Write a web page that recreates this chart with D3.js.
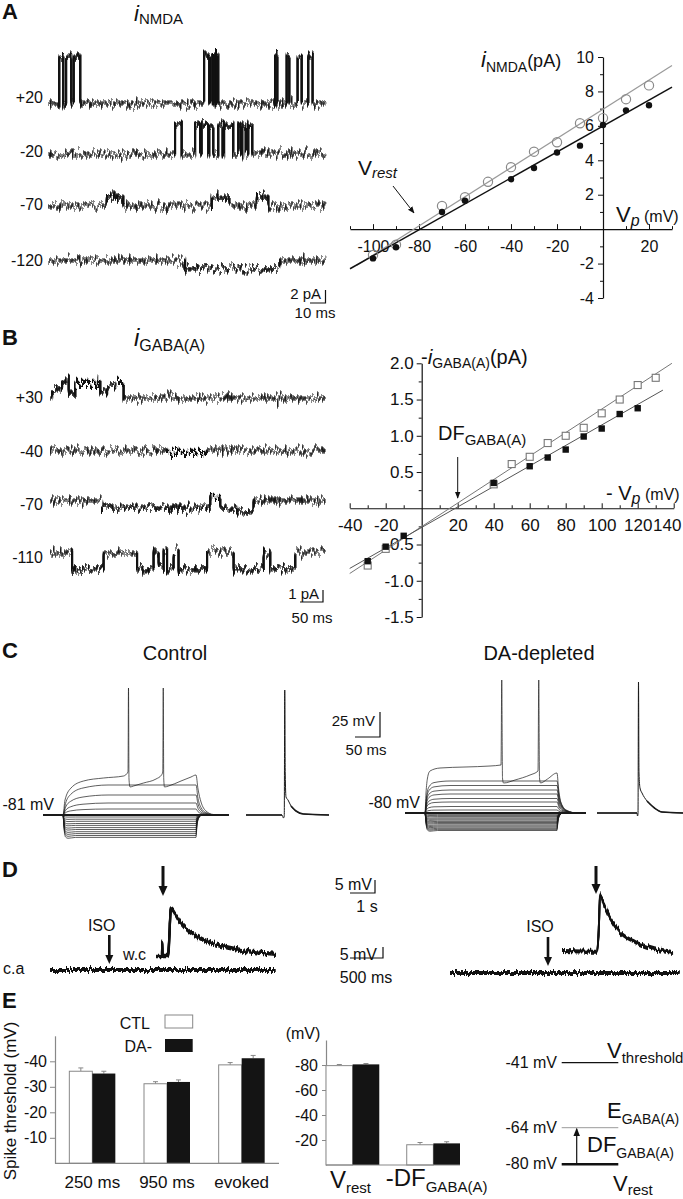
<!DOCTYPE html>
<html><head><meta charset="utf-8">
<script src="https://cdn.jsdelivr.net/npm/d3@7"></script>
<style>
body{margin:0;background:#fff}
svg{display:block}
text{font-family:"Liberation Sans",Arial,Helvetica,sans-serif;fill:#111}
</style></head>
<body><svg id="fig" width="683" height="1199"></svg>
<script>
// ---------------- DATA ----------------
// Panel A: NMDA single-channel IV
const nmdaVp      = [-100,-90,-70,-60,-50,-40,-30,-20,-10,0,10,20];
const nmdaOpenI   = [-1.5,-0.9,1.35,1.85,2.75,3.6,4.5,5.05,6.15,6.45,7.55,8.35];
const nmdaFilledI = [-1.7,-1.05,1.0,1.65,null,2.9,3.55,4.45,4.85,6.05,6.9,7.2];
const nmdaFitOpen   = [[-107,-2.1],[30,9.5]];
const nmdaFitFilled = [[-110,-2.3],[30,8.25]];
const nmdaXTicks = [-100,-80,-60,-40,-20,20];
const nmdaYTicks = [-4,-2,2,4,6,8,10];
// Panel A: NMDA traces (ms, amplitude pA)
const nmdaTraceLabels = ["+20","-20","-70","-120"];
const nmdaTraceAmp = [7.2,4.6,1.2,-1.2];
const nmdaEvents = [
  [[7.3,10],[11.8,15.3],[16.9,21.3],[103.8,107.3],[108.2,109.6],[110.3,111.5],[112.1,113.3],[151.1,152.7],[158.9,160.7],[166.2,168.9],[173.3,176.2]],
  [[84.4,88.9],[97.8,101.1],[102.2,106.7],[107.3,110],[113.3,116.2],[117.1,123.3],[126.7,128.2],[129.3,131.6],[133.3,136]],
  [[38.9,50],[108.9,120.7],[138.9,146.7]],
  [[91.1,154.4]]
];
// Panel B: GABA(A) IV
const gabaVp      = [-30,-20,-10,40,50,60,70,80,90,100,110,120,130];
const gabaOpenI   = [-0.79,-0.56,null,0.33,0.61,0.71,0.9,1.0,1.11,1.31,1.5,1.7,1.8];
const gabaFilledI = [-0.73,-0.53,-0.38,0.35,null,0.58,0.7,0.81,0.99,1.1,1.3,1.38,null];
const gabaFitOpen   = [[-40,-0.9],[139,2.0]];
const gabaFitFilled = [[-40,-0.83],[134,1.63]];
const gabaXTicks = [-40,-20,20,40,60,80,100,120,140];
const gabaYTicks = [-1.5,-1.0,-0.5,0.5,1.0,1.5,2.0];
// Panel B: GABA traces [start ms, end ms, pA]
const gabaTraceLabels = ["+30","-40","-70","-110"];
const gabaEvents = [
  [[3.6,25.4,0.6],[25.4,39.9,1.4],[39.9,54.3,0.4],[54.3,108.7,1.3],[108.7,123.2,0.6],[123.2,141.3,1.1],[141.3,159.4,1.3]],
  [[253.6,340.6,-0.2]],
  [[112.3,347.8,-0.6],[347.8,369.6,0.3],[369.6,405.8,-0.6],[405.8,442,-0.9]],
  [[47.1,115.9,-1.4],[188.4,224.6,-1.4],[235.5,246.4,-1.1],[253.6,268.1,-1.4],[278.9,340.6,-1.4],[398.6,463.8,-1.4],[478.3,532.6,-1.4]]
];
// Panel C: current-clamp step families (mV)
const ctlRest = -81, daRest = -80;
const ctlHypLevels = [-83,-85.2,-87.3,-89.5,-91.4,-93.6,-95.5,-97.7,-99.6,-101.5,-103.4];
const ctlDepLevels = [-75,-69,-61,-51];
const daHypLevels  = [-81.3,-82.4,-83.6,-84.9,-86,-87.1,-88.4,-89.5,-90.6,-91.9,-93,-94.1,-95.3,-96.4,-97.5];
const daDepLevels  = [-77,-73.5,-69,-65.5,-61,-57,-52.5,-48];
const ctlSpikeT = [0,39,43,55,80,120,160,169,170,171,173,180,200,225,236,238.5,239.5,240.5,242,250,275,295,305,309,315,325,340,370];
const ctlSpikeV = [-81,-81,-66,-54,-47,-44,-42,-38,46,-45,-53,-52,-49,-45,-41,-38,46,-45,-53,-52,-47,-43,-41,-55,-68,-77,-80.5,-81];
const ctlEvokedT = [0,72,75,76.5,77.5,78.5,80,84,90,100,115,166];
const ctlEvokedV = [-81,-81,-84,-82,44,-40,-63,-66,-72,-77,-80,-81];
const daSpikeT = [0,40,42,45,50,70,120,170,192,193.5,195,197,220,250,266,267.5,269,271,285,304,307,312,320,335,362];
const daSpikeV = [-80,-80,-60,-45,-38,-35,-34,-33,-32,53,-45,-50,-47,-42,-38,53,-45,-50,-46,-40,-55,-70,-77,-80,-80];
const daEvokedT = [0,80,81,82,83,84,86,90,100,115,130,172];
const daEvokedV = [-80,-80,-83,-81,51,-40,-55,-60,-68,-75,-79,-80];
// Panel D: ISO responses (s, mV)
const wcT = [0,0.24,0.25,0.26,0.48,0.6,0.76,0.96,1.36,1.76,2.36,3.16,3.96,4.8];
const wcV = [0,0,5.4,0,0,18,16.2,13.1,9.2,6.9,4.6,2.7,1.5,0.8];
const daWcT = [0,1.4,1.47,1.52,1.72,1.92,2.32,2.92,3.52,4.44];
const daWcV = [0,-0.3,8,21.5,16.9,12.7,7.3,3.5,1.2,-0.8];
const caLeftT = [0,3.42], caLeftV = [0,0];
const caRightT = [0,3.48], caRightV = [0,0];
// Panel E
const thrCats = ["250 ms","950 ms","evoked"];
const thrCtl = [-36.1,-31.2,-38.6];
const thrDa  = [-35.2,-31.9,-41.2];
const thrCtlErr = [1.3,0.8,0.9];
const thrDaErr  = [0.9,0.8,1.1];
const thrTicks = [-40,-30,-20,-10];
const mvCats = ["Vrest","DF"];
const mvCtl = [-79.5,-16.2];
const mvDa  = [-80.5,-17.3];
const mvCtlErr = [0.9,1.8];
const mvDaErr  = [0.7,1.3];
const mvTicks = [-80,-60,-40,-20];
const diagLevels = [-41,-64,-80];
const diagLabels = ["-41 mV","-64 mV","-80 mV"];

// ---------------- HELPERS ----------------
const svg = d3.select("#fig");
const defs = svg.append("defs");
const INK = "#111";

function makeNoise(id, fx, fy, scale, seed, smear){
  const f = defs.append("filter").attr("id",id).attr("filterUnits","userSpaceOnUse")
    .attr("x",0).attr("y",0).attr("width",683).attr("height",1199)
    .attr("color-interpolation-filters","sRGB");
  f.append("feTurbulence").attr("type","fractalNoise").attr("baseFrequency",fx+" "+fy)
    .attr("numOctaves",3).attr("seed",seed).attr("result","turb");
  f.append("feColorMatrix").attr("in","turb").attr("type","matrix")
    .attr("values","0 0 0 0 0.5  0 1 0 0 0  0 0 0 0 0  0 0 0 0 1").attr("result","map");
  f.append("feDisplacementMap").attr("in","SourceGraphic").attr("in2","map").attr("scale",scale)
    .attr("xChannelSelector","R").attr("yChannelSelector","G").attr("result","disp");
  const names=["disp"];
  smear.forEach((d,i)=>{
    f.append("feOffset").attr("in","disp").attr("dx",d[0]).attr("dy",d[1]).attr("result","o"+i);
    names.push("o"+i);
  });
  const m = f.append("feMerge");
  names.forEach(n=>m.append("feMergeNode").attr("in",n));
}
makeNoise("nzA",0.8,0.05,20,3,[[0,1],[0,-1],[0,2],[0.5,0]]);
makeNoise("nzB",0.8,0.05,19,7,[[0,1],[0,-1],[0,2],[0.5,0]]);
makeNoise("nzD",0.7,0.05,7,11,[[0,1],[0,-1]]);

defs.append("marker").attr("id","ah").attr("viewBox","0 0 10 10").attr("refX",9).attr("refY",5)
  .attr("markerWidth",7).attr("markerHeight",7).attr("orient","auto")
  .append("path").attr("d","M0,1 L10,5 L0,9 z").attr("fill",INK);

function txt(g,x,y,parts,anchor){
  const t = g.append("text").attr("x",x).attr("y",y).attr("text-anchor",anchor||"start");
  parts.forEach(p=>{
    const s = t.append("tspan").text(p.t).attr("font-size",p.s);
    if(p.i) s.attr("font-style","italic");
    if(p.b) s.attr("font-weight","bold");
    if(p.dy) s.attr("dy",p.dy);
    if(p.dx) s.attr("dx",p.dx);
  });
  return t;
}
function panelLabel(l,y){ txt(svg,2,y,[{t:l,s:22,b:true}]); }
function thickArrow(g,x,y1,y2,w,hw,hl){
  g.append("line").attr("x1",x).attr("x2",x).attr("y1",y1).attr("y2",y2-hl+1)
    .attr("stroke",INK).attr("stroke-width",w);
  g.append("path").attr("d",`M${x-hw/2},${y2-hl} L${x+hw/2},${y2-hl} L${x},${y2} Z`).attr("fill",INK);
}
function stepPoints(ev,T){
  const e = ev.slice().sort((a,b)=>a[0]-b[0]);
  const pts=[[0,0]]; let prevEnd=null;
  e.forEach(([s,en,a])=>{
    if(prevEnd!==null && Math.abs(s-prevEnd)>1e-6) pts.push([prevEnd,0]);
    pts.push([s,a]); prevEnd=en;
  });
  if(prevEnd!==null) pts.push([prevEnd,0]);
  pts.push([T,0]);
  return pts;
}
function styleAxis(g,size){
  g.selectAll("path.domain").attr("stroke",INK).attr("stroke-width",1.2);
  g.selectAll(".tick line").attr("stroke",INK).attr("stroke-width",1);
  g.selectAll("text").attr("font-size",size).attr("fill",INK)
    .attr("font-family",'"Liberation Sans",Arial,sans-serif');
}
const fmtInt = d=>String(d);

// ---------------- PANEL A traces ----------------
panelLabel("A",19);
txt(svg,134,21,[{t:"i",s:22,i:true},{t:"NMDA",s:15,dy:3}]);
{
  const g = svg.append("g");
  const x = d3.scaleLinear().domain([0,185]).range([48,325.5]);
  const bases = [103,154,205,260];
  const labY = [103,157,210,266];
  const tr = g.append("g").attr("filter","url(#nzA)");
  nmdaEvents.forEach((ev,k)=>{
    const y = d3.scaleLinear().domain([0,1]).range([bases[k],bases[k]-6.5]);
    const pts = stepPoints(ev.map(e=>[e[0],e[1],nmdaTraceAmp[k]]),185);
    tr.append("path").attr("d",d3.line().x(p=>x(p[0])).y(p=>y(p[1])).curve(d3.curveStepAfter)(pts))
      .attr("fill","none").attr("stroke","#111").attr("stroke-width",1.2);
    txt(g,43,labY[k],[{t:nmdaTraceLabels[k],s:16}],"end");
  });
  g.append("path").attr("d","M310,303 H325.5 V290").attr("fill","none").attr("stroke",INK).attr("stroke-width",1.2);
  txt(g,321,299,[{t:"2 pA",s:15}],"end");
  txt(g,315,318,[{t:"10 ms",s:15}],"middle");
}

// ---------------- PANEL A IV ----------------
{
  const g = svg.append("g");
  const x = d3.scaleLinear().domain([-110,30]).range([350,672]);
  const y = d3.scaleLinear().domain([-4,10]).range([298,57]);
  const gx = g.append("g").attr("transform",`translate(0,${y(0)})`)
    .call(d3.axisBottom(x).tickValues(nmdaXTicks).tickSize(-5).tickSizeOuter(0).tickPadding(11).tickFormat(fmtInt));
  styleAxis(gx,16);
  g.append("g").attr("transform",`translate(0,${y(0)})`)
    .call(d3.axisBottom(x).tickValues([-110,-90,-70,-50,-30,-10,10,30]).tickSize(-3).tickSizeOuter(0).tickFormat(""))
    .call(a=>{a.select(".domain").remove();a.selectAll("line").attr("stroke",INK);});
  const gy = g.append("g").attr("transform",`translate(${x(0)},0)`)
    .call(d3.axisLeft(y).tickValues(nmdaYTicks).tickSize(5).tickSizeOuter(0).tickPadding(4).tickFormat(fmtInt));
  styleAxis(gy,16);
  g.append("g").attr("transform",`translate(${x(0)},0)`)
    .call(d3.axisLeft(y).tickValues([-3,-1,1,3,5,7,9]).tickSize(3).tickSizeOuter(0).tickFormat(""))
    .call(a=>{a.select(".domain").remove();a.selectAll("line").attr("stroke",INK);});
  const ln = d3.line().x(d=>x(d[0])).y(d=>y(d[1]));
  g.append("path").attr("d",ln(nmdaFitOpen)).attr("stroke","#9a9a9a").attr("stroke-width",1.2).attr("fill","none");
  g.append("path").attr("d",ln(nmdaFitFilled)).attr("stroke",INK).attr("stroke-width",1.5).attr("fill","none");
  g.selectAll("circle.o").data(nmdaVp.map((v,i)=>[v,nmdaOpenI[i]]).filter(d=>d[1]!==null)).join("circle")
    .attr("cx",d=>x(d[0])).attr("cy",d=>y(d[1])).attr("r",4.6).attr("fill","none").attr("stroke","#8a8a8a").attr("stroke-width",1.2);
  g.selectAll("circle.f").data(nmdaVp.map((v,i)=>[v,nmdaFilledI[i]]).filter(d=>d[1]!==null)).join("circle")
    .attr("cx",d=>x(d[0])).attr("cy",d=>y(d[1])).attr("r",3.2).attr("fill",INK);
  txt(g,481,67,[{t:"i",s:22,i:true},{t:"NMDA",s:14,dy:5},{t:"(pA)",s:18,dy:-5}]);
  txt(g,616,222,[{t:"V",s:22},{t:"p",s:16,i:true,dy:4},{t:" (mV)",s:16,dy:-4}]);
  txt(g,358,175,[{t:"V",s:21},{t:"rest",s:15,i:true,dy:3}]);
  g.append("line").attr("x1",393).attr("y1",186).attr("x2",414).attr("y2",213)
    .attr("stroke",INK).attr("stroke-width",1).attr("marker-end","url(#ah)");
}

// ---------------- PANEL B traces ----------------
panelLabel("B",345);
txt(svg,134,346,[{t:"i",s:24,i:true},{t:"GABA(A)",s:16,dy:5}]);
{
  const g = svg.append("g");
  const x = d3.scaleLinear().domain([0,598]).range([50,325]);
  const bases = [398,450,500,552];
  const labY = [403,457,510,563];
  const tr = g.append("g").attr("filter","url(#nzB)");
  gabaEvents.forEach((ev,k)=>{
    const y = d3.scaleLinear().domain([0,1]).range([bases[k],bases[k]-12]);
    const pts = stepPoints(ev,598);
    tr.append("path").attr("d",d3.line().x(p=>x(p[0])).y(p=>y(p[1])).curve(d3.curveStepAfter)(pts))
      .attr("fill","none").attr("stroke","#111").attr("stroke-width",1.2);
    txt(g,43,labY[k],[{t:gabaTraceLabels[k],s:16}],"end");
  });
  g.append("path").attr("d","M300,602 H323 V590").attr("fill","none").attr("stroke",INK).attr("stroke-width",1.2);
  txt(g,319,599,[{t:"1 pA",s:15}],"end");
  txt(g,312,623,[{t:"50 ms",s:15}],"middle");
}

// ---------------- PANEL B IV ----------------
{
  const g = svg.append("g");
  const x = d3.scaleLinear().domain([-40,140]).range([349.7,673.7]);
  const y = d3.scaleLinear().domain([-1.5,2.0]).range([617,363.3]);
  const gx = g.append("g").attr("transform",`translate(0,${y(0)})`)
    .call(d3.axisBottom(x).tickValues(gabaXTicks).tickSize(-5).tickSizeOuter(0).tickPadding(11).tickFormat(fmtInt));
  styleAxis(gx,17);
  gx.selectAll(".tick text").filter(d=>d===140).attr("dx",-7);
  g.append("g").attr("transform",`translate(0,${y(0)})`)
    .call(d3.axisBottom(x).tickValues([-30,-10,10,30,50,70,90,110,130]).tickSize(-3).tickSizeOuter(0).tickFormat(""))
    .call(a=>{a.select(".domain").remove();a.selectAll("line").attr("stroke",INK);});
  const gy = g.append("g").attr("transform",`translate(${x(0)},0)`)
    .call(d3.axisLeft(y).tickValues(gabaYTicks).tickSize(5).tickSizeOuter(0).tickPadding(3).tickFormat(d=>d.toFixed(1)));
  styleAxis(gy,17);
  g.append("g").attr("transform",`translate(${x(0)},0)`)
    .call(d3.axisLeft(y).tickValues([-1.25,-0.75,-0.25,0.25,0.75,1.25,1.75]).tickSize(3).tickSizeOuter(0).tickFormat(""))
    .call(a=>{a.select(".domain").remove();a.selectAll("line").attr("stroke",INK);});
  const ln = d3.line().x(d=>x(d[0])).y(d=>y(d[1]));
  g.append("path").attr("d",ln(gabaFitOpen)).attr("stroke","#777").attr("stroke-width",1).attr("fill","none");
  g.append("path").attr("d",ln(gabaFitFilled)).attr("stroke","#555").attr("stroke-width",1).attr("fill","none");
  const s1=7, s2=6.4;
  g.selectAll("rect.o").data(gabaVp.map((v,i)=>[v,gabaOpenI[i]]).filter(d=>d[1]!==null)).join("rect")
    .attr("x",d=>x(d[0])-s1/2).attr("y",d=>y(d[1])-s1/2).attr("width",s1).attr("height",s1)
    .attr("fill","#fff").attr("stroke","#777").attr("stroke-width",1.1);
  g.selectAll("rect.f").data(gabaVp.map((v,i)=>[v,gabaFilledI[i]]).filter(d=>d[1]!==null)).join("rect")
    .attr("x",d=>x(d[0])-s2/2).attr("y",d=>y(d[1])-s2/2).attr("width",s2).attr("height",s2).attr("fill",INK);
  txt(g,421,364,[{t:"-",s:20},{t:"i",s:21,i:true},{t:"GABA(A)",s:14,dy:4},{t:"(pA)",s:20,dy:-4}]);
  txt(g,438,440,[{t:"DF",s:20},{t:"GABA(A)",s:15,dy:5}]);
  txt(g,606,500,[{t:"- V",s:20},{t:"p",s:16,i:true,dy:4},{t:" (mV)",s:16,dy:-4}]);
  g.append("line").attr("x1",x(20)).attr("x2",x(20)).attr("y1",457).attr("y2",498)
    .attr("stroke",INK).attr("stroke-width",1).attr("marker-end","url(#ah)");
}

// ---------------- PANEL C ----------------
panelLabel("C",658);
txt(svg,175,660,[{t:"Control",s:20}],"middle");
txt(svg,539,660,[{t:"DA-depleted",s:20}],"middle");
{
  const g = svg.append("g");
  const hypRise = {dt:[0,2,5,10,25], f:[0,0.6,0.98,1.04,1]};
  const hypFall = {dt:[0,2,6,14,30], f:[1,0.45,0.12,-0.03,0]};
  const ctlDepRise = {dt:[0,5,15,40,90], f:[0,0.38,0.68,0.9,1]};
  const daDepRise  = {dt:[0,3,8,18,50], f:[0,0.5,0.82,0.95,1]};
  const depFall = {dt:[0,4,10,20,40], f:[1,0.55,0.25,0.08,0]};
  function stepTrace(base,level,on,off,end,rise,fall){
    const d=level-base, pts=[[0,base],[on,base]];
    rise.dt.forEach((t,i)=>{ if(i>0) pts.push([on+t,base+rise.f[i]*d]); });
    pts.push([off,level]);
    fall.dt.forEach((t,i)=>{ if(i>0) pts.push([off+t,base+fall.f[i]*d]); });
    pts.push([end,base]);
    return pts;
  }
  function draw(xs,ys,pts,w){
    g.append("path").attr("d",d3.line().x(p=>xs(p[0])).y(p=>ys(p[1])).curve(d3.curveMonotoneX)(pts))
      .attr("fill","none").attr("stroke","#1a1a1a").attr("stroke-width",w||0.7);
  }
  const xC = d3.scaleLinear().domain([0,370]).range([43.5,228.5]);
  const yC = d3.scaleLinear().domain([-81,-56]).range([815,790]);
  ctlHypLevels.forEach(l=>draw(xC,yC,stepTrace(ctlRest,l,39,305,370,hypRise,hypFall)));
  ctlDepLevels.forEach(l=>draw(xC,yC,stepTrace(ctlRest,l,39,305,370,ctlDepRise,depFall)));
  draw(xC,yC,ctlSpikeT.map((t,i)=>[t,ctlSpikeV[i]]));
  draw(xC,yC,[[0,ctlRest],[370,ctlRest]],1.8);
  const xCE = d3.scaleLinear().domain([0,166]).range([246,329]);
  draw(xCE,yC,ctlEvokedT.map((t,i)=>[t,ctlEvokedV[i]]),1);
  draw(xCE,yC,[[0,ctlRest],[72,ctlRest]],1.6);
  draw(xCE,yC,[[90,-72],[100,-77],[115,-80],[166,-81]],1.6);
  txt(g,54,810,[{t:"-81 mV",s:16}],"end");
  const xD = d3.scaleLinear().domain([0,362]).range([405,586]);
  const yD = d3.scaleLinear().domain([-80,-55]).range([813,788]);
  daHypLevels.forEach(l=>draw(xD,yD,stepTrace(daRest,l,40,304,362,hypRise,hypFall)));
  daDepLevels.forEach(l=>draw(xD,yD,stepTrace(daRest,l,40,304,362,daDepRise,depFall)));
  draw(xD,yD,daSpikeT.map((t,i)=>[t,daSpikeV[i]]));
  draw(xD,yD,[[0,daRest],[362,daRest]],1.8);
  const xDE = d3.scaleLinear().domain([0,172]).range([597,683]);
  draw(xDE,yD,daEvokedT.map((t,i)=>[t,daEvokedV[i]]),1);
  draw(xDE,yD,[[0,daRest],[80,daRest]],1.6);
  draw(xDE,yD,[[100,-68],[115,-75],[130,-79],[172,-80]],1.6);
  txt(g,420,808,[{t:"-80 mV",s:16}],"end");
  g.append("path").attr("d","M355,737 H380 V712").attr("fill","none").attr("stroke",INK).attr("stroke-width",1.2);
  txt(g,375,726,[{t:"25 mV",s:15}],"end");
  txt(g,366,755,[{t:"50 ms",s:15}],"middle");
}

// ---------------- PANEL D ----------------
panelLabel("D",877);
{
  const g = svg.append("g");
  const tr = g.append("g").attr("filter","url(#nzD)");
  const lineFn=(xs,ys)=>d3.line().x(p=>xs(p[0])).y(p=>ys(p[1])).curve(d3.curveMonotoneX);
  const xW = d3.scaleLinear().domain([0,1]).range([156,181]);
  const yW = d3.scaleLinear().domain([0,10]).range([956,930]);
  tr.append("path").attr("d",lineFn(xW,yW)(wcT.map((t,i)=>[t,wcV[i]]))).attr("fill","none").attr("stroke",INK).attr("stroke-width",2.4);
  const xCa = d3.scaleLinear().domain([0,1]).range([50,116]);
  const yCa = d3.scaleLinear().domain([0,5]).range([970,960]);
  tr.append("path").attr("d",lineFn(xCa,yCa)(caLeftT.map((t,i)=>[t,caLeftV[i]]))).attr("fill","none").attr("stroke",INK).attr("stroke-width",1.9);
  const xR = d3.scaleLinear().domain([0,1]).range([562,587]);
  const yR = d3.scaleLinear().domain([0,10]).range([951,925]);
  tr.append("path").attr("d",lineFn(xR,yR)(daWcT.map((t,i)=>[t,daWcV[i]]))).attr("fill","none").attr("stroke",INK).attr("stroke-width",1.9);
  const xCaR = d3.scaleLinear().domain([0,1]).range([450,516]);
  const yCaR = d3.scaleLinear().domain([0,5]).range([973,963]);
  tr.append("path").attr("d",lineFn(xCaR,yCaR)(caRightT.map((t,i)=>[t,caRightV[i]]))).attr("fill","none").attr("stroke",INK).attr("stroke-width",1.9);
  txt(g,101.7,931,[{t:"ISO",s:16}],"middle");
  thickArrow(g,109.3,935,964,2.6,8,9);
  txt(g,123,960,[{t:"w.c",s:16}]);
  txt(g,3,974,[{t:"c.a",s:16}]);
  thickArrow(g,163,866,896,3,9,10);
  txt(g,540,932,[{t:"ISO",s:16}],"middle");
  thickArrow(g,548,937,966,2.6,8,9);
  thickArrow(g,596,866,894,3,9,10);
  g.append("path").attr("d","M350,893 H375 V880").attr("fill","none").attr("stroke",INK).attr("stroke-width",1.2);
  txt(g,372,890,[{t:"5 mV",s:16}],"end");
  txt(g,367,912,[{t:"1 s",s:16}],"middle");
  g.append("path").attr("d","M350,958 H383 V947").attr("fill","none").attr("stroke",INK).attr("stroke-width",1.2);
  txt(g,377,960,[{t:"5 mV",s:16}],"end");
  txt(g,366,983,[{t:"500 ms",s:16}],"middle");
}

// ---------------- PANEL E ----------------
panelLabel("E",1008);
const AX="#888";
function errBars(g,xs,ys,vals,errs,off,w,col){
  vals.forEach((v,i)=>{
    const cx = xs(i)+off+w/2, y1=ys(v), y2=ys(v-errs[i]);
    g.append("line").attr("x1",cx).attr("x2",cx).attr("y1",y1).attr("y2",y2).attr("stroke",col).attr("stroke-width",1);
    g.append("line").attr("x1",cx-2.5).attr("x2",cx+2.5).attr("y1",y2).attr("y2",y2).attr("stroke",col).attr("stroke-width",1);
  });
}
{
  const g = svg.append("g");
  const y = d3.scaleLinear().domain([0,-50]).range([1163.3,1035.8]);
  const xb = d3.scaleBand().domain(d3.range(thrCats.length)).range([55,279]).paddingInner(0.384).paddingOuter(0.192);
  const bw = xb.bandwidth()/2;
  const gy = g.append("g").attr("transform","translate(55,0)")
    .call(d3.axisLeft(y).tickValues(thrTicks).tickSize(5).tickSizeOuter(0).tickPadding(3).tickFormat(fmtInt));
  styleAxis(gy,16);
  gy.selectAll("path.domain,.tick line").attr("stroke",AX);
  errBars(g,xb,y,thrCtl,thrCtlErr,0,bw,AX);
  errBars(g,xb,y,thrDa,thrDaErr,bw,bw,AX);
  g.selectAll("rect.c").data(thrCtl).join("rect").attr("x",(d,i)=>xb(i)).attr("y",d=>y(d)).attr("width",bw)
    .attr("height",d=>y(0)-y(d)).attr("fill","#fff").attr("stroke",AX).attr("stroke-width",1);
  g.selectAll("rect.d").data(thrDa).join("rect").attr("x",(d,i)=>xb(i)+bw).attr("y",d=>y(d)).attr("width",bw)
    .attr("height",d=>y(0)-y(d)).attr("fill","#141414");
  g.append("line").attr("x1",55).attr("x2",279).attr("y1",y(0)).attr("y2",y(0)).attr("stroke",AX).attr("stroke-width",1.2);
  thrCats.forEach((c,i)=>txt(g,xb(i)+xb.bandwidth()/2,1188,[{t:c,s:17}],"middle"));
  txt(g,0,0,[{t:"Spike threshold (mV)",s:17}],"middle").attr("transform","translate(16,1101) rotate(-90)");
  txt(g,150,1029,[{t:"CTL",s:16}],"end");
  g.append("rect").attr("x",165).attr("y",1015).attr("width",27.7).attr("height",13).attr("fill","#fff").attr("stroke",AX);
  txt(g,152,1052,[{t:"DA-",s:16}],"end");
  g.append("rect").attr("x",165).attr("y",1039).attr("width",27.7).attr("height",13).attr("fill","#141414");
}
{
  const g = svg.append("g");
  const y = d3.scaleLinear().domain([0,-100]).range([1165,1040]);
  const xb = d3.scaleBand().domain(d3.range(mvCats.length)).range([326,460]).paddingInner(0.34).paddingOuter(0);
  const bw = xb.bandwidth()/2;
  const gy = g.append("g").attr("transform","translate(326,0)")
    .call(d3.axisLeft(y).tickValues(mvTicks).tickSize(4).tickSizeOuter(0).tickPadding(4).tickFormat(fmtInt));
  styleAxis(gy,16);
  gy.selectAll("path.domain,.tick line").attr("stroke",AX);
  errBars(g,xb,y,mvCtl,mvCtlErr,0,bw,AX);
  errBars(g,xb,y,mvDa,mvDaErr,bw,bw,AX);
  g.selectAll("rect.c").data(mvCtl).join("rect").attr("x",(d,i)=>xb(i)).attr("y",d=>y(d)).attr("width",bw)
    .attr("height",d=>y(0)-y(d)).attr("fill","#fff").attr("stroke",AX).attr("stroke-width",1);
  g.selectAll("rect.d").data(mvDa).join("rect").attr("x",(d,i)=>xb(i)+bw).attr("y",d=>y(d)).attr("width",bw)
    .attr("height",d=>y(0)-y(d)).attr("fill","#141414");
  g.append("line").attr("x1",326).attr("x2",460).attr("y1",y(0)).attr("y2",y(0)).attr("stroke",AX).attr("stroke-width",1.2);
  txt(g,303,1039,[{t:"(mV)",s:16}],"middle");
  txt(g,xb(0)+4,1188,[{t:"V",s:24},{t:"rest",s:15,dy:5}]);
  txt(g,xb(1)-21,1186,[{t:"-DF",s:24},{t:"GABA(A)",s:15,dy:6}]);
}
{
  const g = svg.append("g");
  const y = d3.scaleLinear().domain([-80,-64,-41]).range([1164.3,1127.7,1062.7]);
  const styles = [{c:INK,w:1.3},{c:"#9a9a9a",w:1},{c:INK,w:2.6}];
  diagLevels.forEach((v,i)=>{
    g.append("line").attr("x1",561.7).attr("x2",618.3).attr("y1",y(v)).attr("y2",y(v))
      .attr("stroke",styles[i].c).attr("stroke-width",styles[i].w);
    txt(g,557,y(v)+5,[{t:diagLabels[i],s:16}],"end");
  });
  g.append("line").attr("x1",576.7).attr("x2",576.7).attr("y1",y(-80)).attr("y2",y(-64)+1)
    .attr("stroke",INK).attr("stroke-width",1.2).attr("marker-end","url(#ah)");
  txt(g,607,1058,[{t:"V",s:22},{t:"threshold",s:15,dy:5}]);
  txt(g,607,1118,[{t:"E",s:22},{t:"GABA(A)",s:14,dy:6}]);
  txt(g,587,1152,[{t:"DF",s:22},{t:"GABA(A)",s:14,dy:6}]);
  txt(g,613,1191,[{t:"V",s:22},{t:"rest",s:15,dy:4}]);
}
</script></body></html>
